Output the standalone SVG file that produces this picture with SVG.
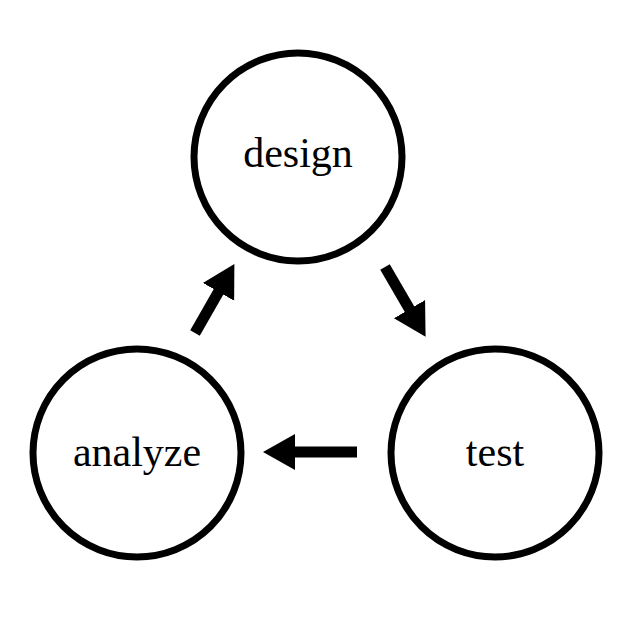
<svg xmlns="http://www.w3.org/2000/svg" width="631" height="631" viewBox="0 0 631 631">
<style>
.n{fill:#fff;stroke:#000;stroke-width:7}
.t{font-family:"Liberation Serif",serif;font-size:42px;text-anchor:middle}
.c{stroke:#000;stroke-width:11;fill:none}
</style>
<defs><marker id="a" markerUnits="userSpaceOnUse" markerWidth="40" markerHeight="40" refX="1" refY="20" orient="auto"><path d="M0,2 L32,20 L0,38 Z"/></marker></defs>
<rect width="631" height="631" fill="#fff"/>
<g id="design"><circle class="n" cx="298" cy="157" r="104"/><text class="t" x="298" y="167">design</text></g>
<g id="analyze"><circle class="n" cx="137" cy="453" r="104"/><text class="t" x="137" y="466">analyze</text></g>
<g id="test"><circle class="n" cx="495" cy="453" r="104"/><text class="t" x="495" y="466">test</text></g>
<g id="connectors">
<line class="c" x1="195" y1="333" x2="219" y2="291" marker-end="url(#a)"/>
<line class="c" x1="385" y1="267" x2="410" y2="310" marker-end="url(#a)"/>
<line class="c" x1="357" y1="452" x2="294" y2="452" marker-end="url(#a)"/>
</g>
</svg>
